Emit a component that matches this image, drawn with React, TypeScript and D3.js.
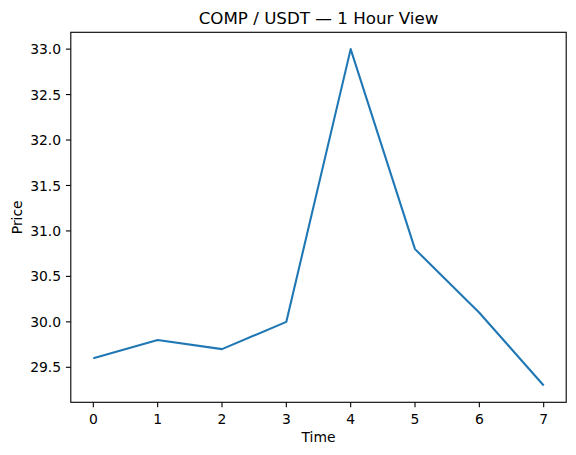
import React from "react";
import * as d3 from "d3";

const times = [0, 1, 2, 3, 4, 5, 6, 7];
const prices = [29.6, 29.8, 29.7, 30.0, 33.0, 30.8, 30.1, 29.3];
const xTicks = [0, 1, 2, 3, 4, 5, 6, 7];
const yTicks = [29.5, 30.0, 30.5, 31.0, 31.5, 32.0, 32.5, 33.0];
const title = "COMP / USDT — 1 Hour View";
const xLabel = "Time";
const yLabel = "Price";

const W = 576, H = 455;
const L = 70.8, R = 566.2, T = 32.3, B = 402.3;
const font = "DejaVu Sans, sans-serif";

export default function App() {
  const xMin = d3.min(times)!, xMax = d3.max(times)!;
  const yMin = d3.min(prices)!, yMax = d3.max(prices)!;
  const xm = (xMax - xMin) * 0.05, ym = (yMax - yMin) * 0.05;
  const x = d3.scaleLinear().domain([xMin - xm, xMax + xm]).range([L, R]);
  const y = d3.scaleLinear().domain([yMin - ym, yMax + ym]).range([B, T]);
  const line = d3.line<number>().x((_, i) => x(times[i])).y((d) => y(d));
  return (
    <svg width={W} height={H} style={{ position: "absolute", left: 0, top: 0, background: "#fff" }}>
      <rect x={0} y={0} width={W} height={H} fill="#fff" />
      <path d={line(prices)!} fill="none" stroke="#1f77b4" strokeWidth={2.08} strokeLinejoin="round" strokeLinecap="butt" />
      <rect x={L} y={T} width={R - L} height={B - T} fill="none" stroke="#000" strokeWidth={1.1} />
      {xTicks.map((t) => (
        <g key={t}>
          <line x1={x(t)} x2={x(t)} y1={B} y2={B + 4.86} stroke="#000" strokeWidth={1.1} />
          <text x={x(t)} y={424} textAnchor="middle" fontFamily={font} fontSize={13.9} fill="#000">{t}</text>
        </g>
      ))}
      {yTicks.map((t) => (
        <g key={t}>
          <line x1={L - 4.86} x2={L} y1={y(t)} y2={y(t)} stroke="#000" strokeWidth={1.1} />
          <text x={L - 9.7} y={y(t) + 5.1} textAnchor="end" fontFamily={font} fontSize={13.9} fill="#000">{t.toFixed(1)}</text>
        </g>
      ))}
      <text x={(L + R) / 2} y={441.7} textAnchor="middle" fontFamily={font} fontSize={13.9} fill="#000">{xLabel}</text>
      <text transform={`translate(22,${(T + B) / 2}) rotate(-90)`} textAnchor="middle" fontFamily={font} fontSize={13.9} fill="#000">{yLabel}</text>
      <text x={(L + R) / 2} y={24} textAnchor="middle" fontFamily={font} fontSize={16.7} fill="#000">{title}</text>
    </svg>
  );
}
